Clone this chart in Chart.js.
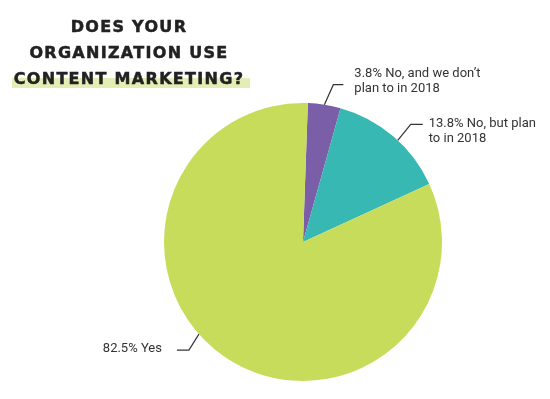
<!DOCTYPE html>
<html lang="en">
<head>
    <meta charset="UTF-8">
    <script src="https://cdn.jsdelivr.net/npm/chart.js"></script>
    <title>Does your organization use content marketing?</title>
    <style>
        body { margin: 0; background: #fff; }
        #wrap { position: relative; width: 550px; height: 399px; }
        #band {
            position: absolute; left: 12px; top: 78px; width: 238px; height: 10px;
            background: #e4eeb4;
        }
        #title {
            position: absolute; left: 0; top: 14px; width: 258px;
            text-align: center;
            font-family: "DejaVu Sans", sans-serif; font-weight: bold;
            font-size: 16px; line-height: 26px; letter-spacing: 1.3px;
            -webkit-text-stroke: 0.5px #222;
            color: #222;
        }
    </style>
</head>
<body>
    <div id="wrap">
        <canvas id="chart_div" width="550" height="399"></canvas>
        <div id="band"></div>
        <div id="title">DOES YOUR<br>ORGANIZATION USE<br>CONTENT MARKETING?</div>
    </div>
    <script>
        var labels = ['No, and we don\u2019t plan to in 2018', 'No, but plan to in 2018', 'Yes'];
        var values = [3.8, 13.8, 82.5];
        var colors = ['#7a5ea8', '#37b8b3', '#c8dc5c'];
        // label text lines, split as in the original
        var labelLines = [
            ['3.8% No, and we don\u2019t', 'plan to in 2018'],
            ['13.8% No, but plan', 'to in 2018'],
            ['82.5% Yes']
        ];
        // where on each slice edge the leader starts (0..1 along the arc)
        var anchorAt = [0.5, 0.55, 0.55];

        // leader line shapes: elbow, end, text position relative to anchor
        var leaders = [
            { elbow: [9, -20], end: [19, -20], text: [30, -31], align: 'left' },
            { elbow: [13, -16], end: [25, -16], text: [31, -17], align: 'left' },
            { elbow: [-10, 16], end: [-22, 16], text: [-37, 15], align: 'right' }
        ];

        var calloutPlugin = {
            id: 'callouts',
            afterDatasetsDraw: function(chart) {
                var ctx = chart.ctx;
                var arcs = chart.getDatasetMeta(0).data;
                ctx.save();
                ctx.strokeStyle = '#333';
                ctx.lineWidth = 1.2;
                ctx.fillStyle = '#333';
                ctx.font = '13px Roboto';
                ctx.textBaseline = 'middle';
                for (var i = 0; i < arcs.length; i++) {
                    var a = arcs[i];
                    var ang = a.startAngle + (a.endAngle - a.startAngle) * anchorAt[i];
                    var x0 = a.x + Math.cos(ang) * a.outerRadius;
                    var y0 = a.y + Math.sin(ang) * a.outerRadius;
                    var L = leaders[i];
                    ctx.beginPath();
                    ctx.moveTo(x0, y0);
                    ctx.lineTo(x0 + L.elbow[0], y0 + L.elbow[1]);
                    ctx.lineTo(x0 + L.end[0], y0 + L.end[1]);
                    ctx.stroke();
                    ctx.textAlign = L.align;
                    for (var j = 0; j < labelLines[i].length; j++) {
                        ctx.fillText(labelLines[i][j], x0 + L.text[0], y0 + L.text[1] + j * 15);
                    }
                }
                ctx.restore();
            }
        };

        var config = {
            type: 'pie',
            data: {
                labels: labels,
                datasets: [{
                    data: values,
                    backgroundColor: colors,
                    borderWidth: 0,
                    offset: 0,
                    hoverOffset: 0
                }]
            },
            options: {
                responsive: false,
                animation: false,
                rotation: 2,
                layout: { padding: { top: 103, bottom: 18, left: 164, right: 108 } },
                plugins: {
                    legend: { display: false },
                    tooltip: { enabled: false }
                },
                events: []
            },
            plugins: [calloutPlugin]
        };

        var myChart = new Chart(document.getElementById('chart_div'), config);
    </script>
</body>
</html>
